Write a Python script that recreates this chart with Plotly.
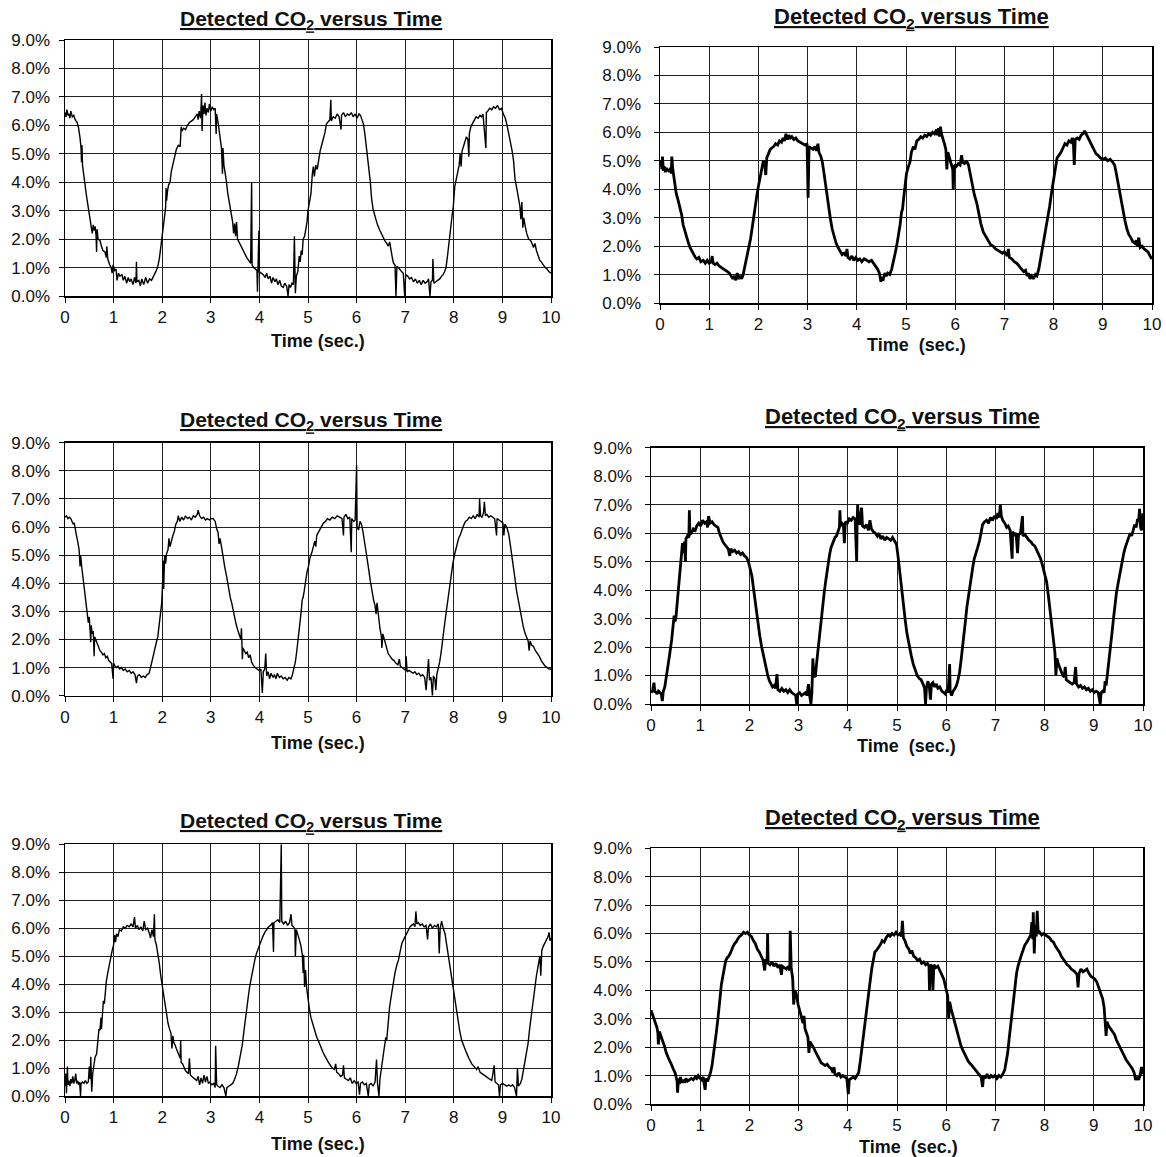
import plotly.graph_objects as go

W, H = 1166, 1157

# ---------------- data (time in s, CO2 in %) ----------------
t1 = [0.00,0.02,0.04,0.06,0.08,0.10,0.12,0.15,0.18,0.21,0.25,0.28,0.31,0.33,0.34,0.35,0.36,0.38,0.41,0.44,0.48,0.51,0.54,0.56,0.58,0.60,0.62,0.64,0.65,0.66,0.68,0.72,0.75,0.78,0.82,0.85,0.86,0.88,0.92,0.95,0.97,0.99,1.02,1.05,1.07,1.10,1.13,1.17,1.20,1.23,1.27,1.30,1.33,1.36,1.40,1.43,1.46,1.47,1.48,1.52,1.55,1.58,1.62,1.66,1.70,1.74,1.78,1.82,1.85,1.88,1.91,1.94,1.97,1.99,2.02,2.05,2.07,2.08,2.09,2.11,2.13,2.16,2.19,2.23,2.26,2.29,2.33,2.37,2.39,2.41,2.44,2.48,2.52,2.56,2.60,2.64,2.68,2.72,2.74,2.76,2.79,2.81,2.82,2.84,2.86,2.88,2.90,2.92,2.95,2.97,3.00,3.03,3.06,3.09,3.11,3.12,3.15,3.19,3.22,3.24,3.25,3.27,3.30,3.32,3.35,3.38,3.42,3.45,3.47,3.49,3.51,3.53,3.55,3.58,3.62,3.66,3.70,3.74,3.78,3.82,3.84,3.85,3.88,3.91,3.95,3.96,3.97,3.99,4.00,4.04,4.08,4.12,4.15,4.18,4.22,4.25,4.28,4.32,4.35,4.38,4.42,4.45,4.49,4.52,4.56,4.59,4.61,4.64,4.67,4.70,4.72,4.74,4.76,4.79,4.82,4.84,4.86,4.88,4.90,4.93,4.96,4.98,5.00,5.03,5.06,5.09,5.11,5.13,5.16,5.19,5.21,5.25,5.28,5.32,5.35,5.38,5.42,5.45,5.47,5.48,5.52,5.56,5.60,5.64,5.68,5.69,5.73,5.77,5.81,5.85,5.89,5.93,5.97,6.01,6.05,6.08,6.11,6.14,6.17,6.20,6.23,6.26,6.28,6.31,6.34,6.38,6.43,6.48,6.53,6.58,6.62,6.65,6.68,6.71,6.74,6.76,6.79,6.81,6.83,6.86,6.90,6.93,6.96,6.99,7.01,7.05,7.09,7.13,7.17,7.21,7.25,7.29,7.33,7.37,7.41,7.45,7.48,7.51,7.53,7.56,7.57,7.59,7.63,7.67,7.71,7.75,7.78,7.81,7.84,7.87,7.89,7.92,7.94,7.95,7.97,7.99,8.02,8.05,8.09,8.11,8.13,8.15,8.17,8.20,8.23,8.26,8.29,8.31,8.32,8.35,8.38,8.42,8.46,8.50,8.54,8.57,8.60,8.66,8.67,8.70,8.74,8.78,8.82,8.86,8.90,8.94,8.98,9.02,9.06,9.09,9.12,9.16,9.20,9.23,9.26,9.30,9.33,9.36,9.38,9.40,9.42,9.44,9.47,9.50,9.54,9.58,9.62,9.64,9.67,9.70,9.74,9.77,9.80,9.84,9.88,9.92,9.96,10.00]
v1 = [6.45,6.30,6.55,6.35,6.40,6.25,6.50,6.30,6.35,6.20,6.10,5.90,5.55,5.20,4.70,5.30,4.60,4.30,3.95,3.55,3.10,2.80,2.45,2.20,2.50,2.30,2.45,2.10,1.55,2.35,2.00,1.95,1.75,1.60,1.55,1.35,1.75,1.30,1.10,1.00,0.80,1.10,0.90,0.95,0.55,0.80,0.70,0.75,0.55,0.70,0.45,0.65,0.50,0.60,0.40,0.65,0.45,1.20,0.50,0.55,0.35,0.60,0.40,0.65,0.45,0.60,0.55,0.70,0.75,0.90,1.05,1.30,1.70,2.00,2.35,2.70,3.10,3.80,3.35,3.70,3.90,4.00,4.40,4.70,4.95,5.15,5.30,5.25,5.95,5.80,5.90,5.85,6.00,6.10,6.15,6.20,6.30,6.40,6.20,6.50,6.25,7.10,5.80,6.70,6.40,6.80,6.35,6.60,6.45,6.75,6.50,6.65,6.55,6.60,5.70,6.40,6.10,5.60,5.20,4.30,5.20,4.60,4.30,4.05,3.60,3.30,2.95,2.60,2.20,2.55,2.10,2.60,2.00,1.90,1.75,1.60,1.45,1.35,1.25,1.15,4.00,1.10,1.00,0.95,0.90,0.15,0.95,2.30,0.85,0.80,0.75,0.65,0.80,0.60,0.70,0.45,0.65,0.50,0.60,0.40,0.55,0.35,0.30,0.45,0.35,0.00,0.40,0.30,0.45,0.40,2.10,0.10,0.70,0.85,1.40,1.20,1.60,1.45,2.00,2.10,2.40,2.60,3.00,3.30,3.60,4.30,4.55,4.20,4.60,4.45,4.70,5.10,5.30,5.55,5.75,6.05,6.15,6.20,6.90,6.15,6.30,6.25,6.40,6.30,5.85,6.35,6.45,6.30,6.40,6.35,6.45,6.30,6.40,6.25,6.40,6.35,6.20,6.05,5.70,5.30,4.90,4.40,4.05,3.40,3.05,2.80,2.50,2.30,2.10,1.95,1.85,1.75,1.90,1.50,1.30,1.15,1.10,0.00,1.05,1.00,0.90,0.85,0.80,0.00,0.75,0.70,0.60,0.65,0.50,0.60,0.45,0.55,0.40,0.55,0.45,0.50,0.60,0.00,0.50,0.55,1.30,0.45,0.50,0.55,0.60,0.70,0.75,0.85,1.00,1.40,1.75,2.20,2.45,2.70,2.90,3.15,3.85,4.10,4.45,4.60,5.00,4.55,5.10,5.25,5.40,5.60,5.50,4.90,5.70,5.95,6.05,6.20,6.30,6.25,6.35,6.30,6.40,5.20,6.45,6.50,6.60,6.55,6.65,6.60,6.70,6.55,6.60,6.40,6.25,6.05,5.80,5.45,5.10,4.75,4.10,3.75,3.40,3.15,2.70,3.30,2.40,2.75,2.45,2.20,2.00,1.95,1.80,1.70,1.85,1.60,1.40,1.25,1.20,1.10,1.00,0.95,0.85,0.80]

t2 = [0.00,0.02,0.04,0.05,0.07,0.09,0.11,0.13,0.15,0.17,0.19,0.21,0.23,0.24,0.26,0.28,0.30,0.33,0.37,0.41,0.44,0.47,0.50,0.54,0.58,0.61,0.65,0.68,0.72,0.75,0.79,0.83,0.88,0.92,0.96,1.00,1.04,1.06,1.08,1.12,1.16,1.20,1.25,1.29,1.33,1.37,1.41,1.45,1.48,1.51,1.54,1.57,1.60,1.63,1.66,1.69,1.72,1.76,1.80,1.84,1.87,1.90,1.93,1.97,2.00,2.04,2.07,2.10,2.13,2.15,2.17,2.20,2.24,2.27,2.31,2.35,2.39,2.43,2.47,2.50,2.53,2.56,2.59,2.62,2.65,2.68,2.72,2.76,2.80,2.85,2.90,2.95,2.99,3.01,3.03,3.07,3.11,3.15,3.18,3.21,3.23,3.27,3.30,3.33,3.36,3.39,3.42,3.46,3.50,3.54,3.58,3.62,3.66,3.70,3.74,3.78,3.80,3.82,3.86,3.90,3.94,3.98,4.02,4.06,4.10,4.15,4.20,4.25,4.30,4.34,4.38,4.42,4.46,4.49,4.51,4.54,4.57,4.60,4.63,4.67,4.71,4.74,4.78,4.81,4.85,4.88,4.91,4.93,4.95,4.98,5.01,5.05,5.08,5.11,5.15,5.18,5.22,5.26,5.30,5.34,5.38,5.42,5.46,5.50,5.54,5.58,5.62,5.64,5.66,5.68,5.70,5.72,5.75,5.78,5.81,5.83,5.85,5.88,5.92,5.95,5.96,5.98,6.02,6.06,6.10,6.13,6.15,6.19,6.23,6.27,6.31,6.35,6.39,6.44,6.48,6.52,6.57,6.62,6.67,6.72,6.77,6.82,6.87,6.92,6.96,7.00,7.03,7.06,7.08,7.10,7.15,7.20,7.25,7.30,7.35,7.39,7.43,7.46,7.49,7.52,7.55,7.59,7.63,7.66,7.70,7.73,7.76,7.80,7.84,7.88,7.92,7.96,8.00,8.04,8.07,8.11,8.15,8.19,8.23,8.27,8.31,8.35,8.38,8.40,8.42,8.44,8.48,8.52,8.56,8.60,8.63,8.66,8.70,8.74,8.78,8.82,8.86,8.90,8.95,9.00,9.05,9.10,9.15,9.20,9.24,9.27,9.30,9.34,9.37,9.41,9.45,9.49,9.53,9.57,9.61,9.65,9.68,9.70,9.73,9.76,9.80,9.84,9.88,9.92,9.96,10.00]
v2 = [4.80,5.00,4.70,5.15,4.65,4.80,4.60,4.75,4.65,4.70,4.60,4.75,4.55,5.15,4.70,4.40,4.10,3.85,3.60,3.30,3.10,2.75,2.55,2.30,2.10,1.95,1.80,1.70,1.60,1.55,1.60,1.45,1.50,1.40,1.50,1.40,1.45,1.65,1.40,1.35,1.40,1.30,1.25,1.20,1.15,1.10,1.05,0.95,0.85,0.95,0.80,1.05,0.85,0.95,0.85,1.00,1.25,1.55,1.80,2.25,2.60,3.00,3.40,3.80,4.10,4.50,4.75,5.00,4.85,4.50,5.10,5.25,5.40,5.45,5.50,5.60,5.55,5.70,5.65,5.80,5.70,5.95,5.75,5.90,5.80,5.85,5.75,5.80,5.70,5.65,5.60,5.55,5.60,3.70,5.50,5.45,5.40,5.50,5.35,5.60,5.30,5.15,4.95,4.60,4.20,3.80,3.40,3.00,2.60,2.30,2.10,1.95,1.80,1.70,1.75,1.65,1.90,1.60,1.55,1.65,1.50,1.60,1.50,1.55,1.45,1.55,1.50,1.45,1.50,1.40,1.30,1.20,1.05,0.75,0.90,0.85,1.05,0.95,1.05,1.00,1.20,1.40,1.75,2.00,2.40,2.75,3.20,3.30,3.65,4.20,4.55,4.80,4.95,5.30,5.50,5.40,5.70,5.75,5.85,5.80,5.90,5.85,5.95,5.90,6.00,5.95,6.10,5.90,6.15,5.85,6.20,5.95,5.80,5.60,5.40,4.70,5.30,5.10,4.85,4.70,4.00,4.85,4.80,4.90,4.85,5.20,4.95,4.90,5.00,4.85,4.50,4.10,3.80,3.50,3.10,2.80,2.50,2.35,2.20,2.05,2.00,1.90,1.85,1.80,1.75,1.80,1.70,1.65,1.90,1.60,1.55,1.45,1.40,1.30,1.20,1.10,1.15,0.95,1.05,0.85,0.95,0.85,1.00,0.95,1.20,1.50,1.80,2.10,2.50,3.00,3.40,3.90,4.40,4.80,5.10,5.20,5.30,5.45,5.60,5.55,5.70,5.65,5.80,5.70,4.85,5.75,5.80,5.75,5.90,5.95,6.05,5.95,5.80,5.65,5.50,5.40,5.25,5.20,5.10,5.05,5.10,5.00,5.05,4.95,4.85,4.60,4.30,3.90,3.60,3.20,2.90,2.60,2.40,2.30,2.15,2.10,2.20,2.00,2.30,1.95,2.00,1.90,1.85,1.80,1.65,1.55]

t3 = [0.00,0.03,0.06,0.09,0.12,0.15,0.17,0.19,0.21,0.23,0.26,0.29,0.31,0.32,0.35,0.38,0.41,0.44,0.46,0.48,0.50,0.52,0.53,0.54,0.56,0.58,0.60,0.61,0.63,0.66,0.69,0.72,0.75,0.78,0.81,0.84,0.87,0.90,0.93,0.96,0.99,1.00,1.03,1.06,1.09,1.12,1.16,1.20,1.24,1.28,1.32,1.36,1.40,1.44,1.47,1.49,1.53,1.57,1.61,1.65,1.69,1.73,1.76,1.79,1.82,1.85,1.88,1.91,1.94,1.97,1.99,2.01,2.02,2.03,2.05,2.07,2.09,2.12,2.14,2.16,2.19,2.22,2.25,2.28,2.31,2.33,2.36,2.40,2.44,2.48,2.52,2.56,2.60,2.64,2.68,2.72,2.74,2.77,2.81,2.85,2.89,2.93,2.97,3.01,3.05,3.09,3.12,3.15,3.17,3.19,3.22,3.25,3.29,3.33,3.36,3.40,3.43,3.46,3.49,3.52,3.56,3.59,3.62,3.63,3.65,3.66,3.69,3.72,3.75,3.78,3.81,3.84,3.87,3.91,3.95,3.99,4.03,4.06,4.08,4.11,4.13,4.15,4.18,4.21,4.24,4.28,4.31,4.34,4.37,4.41,4.45,4.49,4.53,4.57,4.61,4.65,4.68,4.71,4.74,4.77,4.80,4.83,4.86,4.88,4.90,4.92,4.95,4.98,5.01,5.04,5.08,5.11,5.14,5.16,5.18,5.21,5.25,5.28,5.32,5.36,5.40,5.45,5.50,5.55,5.60,5.65,5.70,5.73,5.74,5.78,5.82,5.86,5.89,5.90,5.94,5.97,6.00,6.01,6.04,6.07,6.10,6.13,6.16,6.20,6.24,6.28,6.31,6.35,6.38,6.40,6.42,6.45,6.48,6.51,6.52,6.54,6.57,6.61,6.65,6.69,6.73,6.77,6.81,6.85,6.88,6.90,6.94,6.98,7.01,7.02,7.04,7.08,7.12,7.16,7.20,7.24,7.28,7.32,7.36,7.40,7.43,7.45,7.48,7.50,7.53,7.56,7.58,7.61,7.63,7.65,7.68,7.71,7.74,7.77,7.80,7.83,7.86,7.89,7.92,7.95,7.98,8.02,8.06,8.10,8.14,8.17,8.20,8.24,8.28,8.32,8.36,8.40,8.44,8.48,8.52,8.53,8.55,8.58,8.61,8.63,8.65,8.68,8.72,8.76,8.80,8.84,8.88,8.89,8.93,8.97,9.01,9.03,9.05,9.09,9.13,9.16,9.20,9.23,9.26,9.29,9.33,9.36,9.40,9.43,9.47,9.51,9.53,9.55,9.57,9.60,9.64,9.68,9.72,9.76,9.80,9.84,9.88,9.92,9.96,10.00]
v3 = [6.35,6.40,6.30,6.35,6.30,6.20,6.10,6.15,5.90,5.75,5.50,5.20,4.60,5.00,4.50,4.10,3.60,3.15,2.90,2.60,2.80,2.40,1.90,2.50,2.20,2.30,1.40,2.10,2.00,1.85,1.75,1.60,1.55,1.45,1.50,1.35,1.40,1.25,1.20,1.15,0.60,1.15,1.05,1.00,1.05,0.95,1.00,0.90,0.95,0.85,0.90,0.80,0.85,0.75,0.45,0.70,0.75,0.65,0.70,0.65,0.75,0.80,1.00,1.25,1.45,1.65,1.90,2.10,2.50,2.90,3.30,4.10,4.80,3.80,5.00,4.70,5.05,5.20,5.60,5.30,5.55,5.70,5.85,6.10,6.20,6.40,6.20,6.35,6.25,6.40,6.30,6.35,6.25,6.40,6.35,6.45,6.60,6.40,6.30,6.35,6.25,6.30,6.25,6.30,6.30,6.20,5.95,5.80,5.40,5.60,5.30,4.90,4.55,4.20,3.85,3.50,3.30,3.00,2.80,2.55,2.30,2.10,2.00,2.40,1.30,1.70,1.60,1.50,1.55,1.35,1.45,1.20,1.10,1.00,0.95,0.90,0.95,0.10,0.85,0.95,1.50,0.70,0.85,0.60,0.80,0.65,0.75,0.60,0.80,0.65,0.70,0.60,0.65,0.55,0.65,0.60,0.75,0.95,1.20,1.60,2.00,2.50,3.00,3.40,3.50,3.70,4.10,4.40,4.60,4.90,5.10,5.35,5.50,5.30,5.70,5.80,5.95,6.05,6.15,6.20,6.30,6.25,6.35,6.30,6.40,6.35,6.30,5.70,6.35,6.45,6.30,6.35,5.10,6.30,6.20,6.25,8.20,6.00,5.90,6.20,6.10,5.85,5.55,5.10,4.60,4.10,3.75,3.40,3.20,2.90,3.30,2.70,2.40,2.10,1.70,2.20,2.00,1.70,1.50,1.40,1.30,1.25,1.15,1.10,1.30,1.05,1.00,0.95,0.90,1.40,0.85,0.90,0.85,0.80,0.85,0.75,0.80,0.70,0.75,0.65,0.20,0.60,1.30,0.55,0.65,0.00,0.70,0.60,0.20,0.75,0.95,1.20,1.55,1.90,2.40,2.80,3.20,3.60,3.95,4.35,4.70,5.05,5.35,5.60,5.75,5.95,6.05,6.20,6.25,6.35,6.30,6.40,6.30,6.45,6.35,7.00,6.40,6.35,6.50,6.90,6.40,6.45,6.35,6.40,6.35,6.30,5.70,6.30,6.25,6.20,6.15,5.70,6.10,6.00,5.75,5.40,4.95,4.55,4.15,3.75,3.35,3.05,2.75,2.45,2.20,2.00,1.95,1.60,1.95,1.80,1.75,1.60,1.50,1.40,1.25,1.15,1.05,1.00,0.95,0.95]

t4 = [0.00,0.03,0.06,0.08,0.10,0.12,0.15,0.18,0.21,0.23,0.25,0.28,0.31,0.35,0.38,0.42,0.45,0.47,0.49,0.51,0.54,0.56,0.58,0.60,0.62,0.63,0.64,0.66,0.68,0.70,0.71,0.74,0.77,0.78,0.79,0.82,0.86,0.90,0.93,0.97,1.01,1.05,1.09,1.13,1.15,1.17,1.20,1.24,1.28,1.32,1.36,1.39,1.42,1.46,1.50,1.54,1.57,1.60,1.62,1.66,1.70,1.74,1.78,1.82,1.86,1.90,1.94,1.98,2.02,2.05,2.08,2.11,2.14,2.17,2.21,2.25,2.29,2.32,2.35,2.38,2.41,2.44,2.47,2.50,2.53,2.56,2.58,2.62,2.66,2.70,2.74,2.78,2.82,2.86,2.90,2.94,2.96,2.98,3.02,3.06,3.10,3.14,3.17,3.20,3.22,3.25,3.27,3.29,3.31,3.34,3.37,3.40,3.43,3.46,3.49,3.52,3.55,3.58,3.60,3.63,3.66,3.70,3.74,3.77,3.80,3.83,3.84,3.85,3.88,3.91,3.93,3.95,3.99,4.03,4.07,4.11,4.15,4.18,4.19,4.20,4.22,4.25,4.28,4.30,4.34,4.38,4.42,4.45,4.48,4.52,4.56,4.60,4.63,4.67,4.71,4.75,4.79,4.83,4.87,4.91,4.95,4.99,5.02,5.05,5.08,5.11,5.14,5.17,5.20,5.23,5.26,5.29,5.33,5.37,5.41,5.45,5.49,5.53,5.56,5.58,5.60,5.63,5.66,5.68,5.70,5.73,5.76,5.80,5.83,5.87,5.91,5.95,5.98,6.01,6.04,6.07,6.08,6.11,6.14,6.18,6.21,6.24,6.27,6.30,6.33,6.36,6.39,6.42,6.45,6.48,6.51,6.54,6.57,6.61,6.64,6.68,6.71,6.74,6.78,6.82,6.86,6.90,6.94,6.98,7.02,7.05,7.08,7.10,7.12,7.15,7.19,7.23,7.26,7.30,7.34,7.35,7.39,7.42,7.45,7.47,7.51,7.55,7.56,7.60,7.64,7.68,7.72,7.76,7.80,7.84,7.88,7.92,7.96,8.00,8.04,8.07,8.10,8.13,8.16,8.19,8.21,8.23,8.25,8.28,8.31,8.34,8.37,8.40,8.42,8.44,8.48,8.52,8.56,8.60,8.63,8.65,8.69,8.73,8.77,8.81,8.85,8.89,8.93,8.97,9.01,9.05,9.09,9.13,9.15,9.18,9.21,9.23,9.25,9.28,9.31,9.34,9.37,9.40,9.43,9.46,9.49,9.52,9.55,9.58,9.61,9.64,9.67,9.71,9.74,9.77,9.80,9.83,9.86,9.89,9.91,9.93,9.95,9.97,10.00]
v4 = [0.40,0.45,0.75,0.40,0.45,0.35,0.45,0.40,0.35,0.10,0.45,0.60,0.90,1.30,1.75,2.25,2.95,3.10,2.90,3.10,3.70,4.10,4.40,4.60,5.00,5.50,5.65,5.30,5.70,5.00,5.80,5.90,5.85,6.80,5.95,6.00,6.15,6.10,6.25,6.35,6.25,6.45,6.35,6.40,6.20,6.60,6.35,6.40,6.30,6.25,6.20,6.00,5.85,5.70,5.60,5.50,5.45,5.20,5.45,5.35,5.40,5.30,5.35,5.25,5.30,5.20,5.15,5.00,4.75,4.50,4.10,3.70,3.20,2.80,2.40,2.00,1.65,1.40,1.15,0.95,0.80,0.70,0.60,0.65,0.55,1.05,0.50,0.45,0.55,0.45,0.50,0.40,0.50,0.40,0.35,0.30,0.00,0.35,0.40,0.30,0.35,0.40,0.30,0.70,0.35,0.00,0.40,1.60,1.00,0.95,1.50,2.00,2.40,3.00,3.60,3.90,4.30,4.70,5.05,5.25,5.50,5.70,5.85,5.90,6.10,6.20,6.80,6.25,6.35,6.30,5.65,6.40,6.35,6.50,6.45,6.55,6.50,5.00,6.40,7.00,6.50,6.30,6.90,6.25,6.20,6.30,6.10,6.45,6.15,6.05,6.00,5.90,6.00,5.80,5.90,5.75,5.85,5.80,5.75,5.85,5.70,5.60,5.20,4.70,4.20,3.70,3.30,2.90,2.50,2.20,1.90,1.70,1.40,1.20,1.00,0.90,0.85,0.70,0.55,0.00,0.60,0.80,0.55,0.15,0.70,0.75,0.60,0.70,0.55,0.60,0.45,0.40,0.35,0.50,0.40,1.40,0.45,0.30,0.45,0.55,0.65,0.85,1.10,1.50,1.90,2.40,2.90,3.40,3.80,4.10,4.50,4.80,5.10,5.30,5.50,5.75,6.05,6.30,6.40,6.45,6.35,6.55,6.45,6.60,6.50,6.70,6.55,7.00,6.60,6.45,6.35,6.20,6.25,6.10,5.10,6.05,5.95,6.00,5.30,5.95,6.00,6.60,5.90,5.95,5.85,5.75,5.70,5.60,5.55,5.40,5.30,5.10,4.85,4.55,4.30,3.90,3.40,2.95,2.50,2.05,1.80,1.00,1.60,1.40,1.25,1.10,1.00,0.95,1.30,0.85,0.80,0.75,0.70,0.75,1.30,0.70,0.60,0.65,0.55,0.60,0.50,0.55,0.45,0.50,0.40,0.45,0.40,0.00,0.40,0.45,0.40,0.80,0.65,1.10,1.50,2.00,2.50,3.00,3.50,3.90,4.20,4.50,4.80,5.10,5.30,5.50,5.65,5.80,6.00,5.90,6.10,6.30,6.20,6.50,6.40,6.85,6.20,6.10,6.70]

t5 = [0.00,0.02,0.03,0.05,0.06,0.08,0.10,0.12,0.14,0.16,0.18,0.20,0.22,0.24,0.26,0.28,0.30,0.32,0.33,0.36,0.39,0.42,0.45,0.48,0.50,0.52,0.53,0.55,0.57,0.59,0.62,0.65,0.68,0.70,0.72,0.74,0.75,0.77,0.79,0.81,0.83,0.85,0.88,0.91,0.94,0.97,1.00,1.02,1.04,1.06,1.09,1.12,1.16,1.20,1.24,1.28,1.32,1.36,1.40,1.43,1.45,1.49,1.52,1.56,1.60,1.63,1.66,1.70,1.73,1.76,1.79,1.82,1.84,1.85,1.88,1.91,1.94,1.97,2.00,2.03,2.06,2.09,2.12,2.15,2.18,2.20,2.22,2.24,2.26,2.29,2.32,2.35,2.37,2.38,2.39,2.42,2.45,2.48,2.51,2.54,2.56,2.58,2.61,2.64,2.68,2.71,2.74,2.77,2.80,2.83,2.86,2.89,2.92,2.95,2.98,3.02,3.06,3.09,3.10,3.12,3.15,3.19,3.23,3.27,3.31,3.33,3.37,3.41,3.45,3.49,3.53,3.57,3.61,3.65,3.68,3.71,3.74,3.76,3.79,3.82,3.85,3.88,3.91,3.94,3.97,4.00,4.04,4.07,4.11,4.15,4.19,4.23,4.27,4.29,4.30,4.34,4.38,4.42,4.45,4.46,4.50,4.54,4.58,4.62,4.65,4.67,4.70,4.73,4.74,4.76,4.79,4.82,4.85,4.88,4.90,4.91,4.93,4.95,4.97,5.00,5.03,5.06,5.10,5.14,5.18,5.22,5.26,5.30,5.34,5.38,5.42,5.46,5.50,5.54,5.57,5.59,5.63,5.67,5.71,5.73,5.75,5.79,5.83,5.87,5.91,5.95,5.99,6.03,6.06,6.08,6.12,6.16,6.20,6.24,6.26,6.30,6.34,6.38,6.41,6.43,6.46,6.48,6.52,6.55,6.58,6.60,6.62,6.65,6.68,6.72,6.76,6.79,6.83,6.86,6.90,6.93,6.97,7.00,7.03,7.06,7.10,7.13,7.17,7.20,7.22,7.24,7.27,7.31,7.35,7.39,7.43,7.46,7.48,7.52,7.56,7.60,7.64,7.68,7.70,7.72,7.75,7.78,7.82,7.85,7.89,7.92,7.96,7.99,8.02,8.05,8.09,8.12,8.16,8.21,8.26,8.31,8.37,8.42,8.47,8.50,8.54,8.58,8.62,8.66,8.70,8.74,8.78,8.80,8.83,8.85,8.88,8.92,8.94,8.96,9.00,9.04,9.09,9.13,9.17,9.21,9.25,9.29,9.31,9.33,9.37,9.40,9.43,9.47,9.50,9.53,9.56,9.60,9.63,9.67,9.70,9.74,9.77,9.79,9.81,9.84,9.88,9.91,9.94,9.96,9.98,10.00]
v5 = [0.35,0.80,0.10,1.05,0.40,0.55,0.35,0.60,0.45,0.70,0.45,0.55,0.80,0.45,0.55,0.40,0.50,0.00,0.45,0.50,0.45,0.55,0.45,0.50,1.05,0.60,1.40,0.15,0.80,1.00,1.40,1.50,2.10,2.40,2.35,2.80,2.40,3.20,3.40,3.30,3.90,4.10,4.40,4.70,4.95,5.20,5.40,5.75,5.50,5.80,5.70,5.95,5.90,6.05,6.00,6.10,6.05,6.15,6.05,6.40,6.00,6.10,5.95,6.05,5.90,6.25,5.95,6.00,5.85,5.65,5.95,5.70,6.50,5.60,5.40,5.10,4.75,4.30,3.95,3.50,3.20,2.90,2.60,2.40,2.25,1.70,2.15,1.90,1.85,1.70,1.55,1.40,1.35,2.00,1.20,1.15,1.00,0.90,0.85,0.80,1.35,0.75,0.70,0.65,0.60,0.55,0.70,0.40,0.65,0.45,0.75,0.50,0.70,0.45,0.50,0.40,0.45,0.30,1.80,0.40,0.35,0.30,0.40,0.30,0.00,0.30,0.35,0.40,0.45,0.60,0.80,1.10,1.45,1.85,2.30,2.70,3.10,3.55,3.80,4.10,4.40,4.70,4.90,5.10,5.25,5.40,5.55,5.70,5.85,5.95,6.05,6.10,6.20,5.15,6.20,6.25,6.30,6.20,9.00,6.25,6.15,6.25,6.10,6.20,6.50,6.10,6.05,5.95,5.00,5.95,5.80,5.60,5.40,5.10,4.40,5.05,3.90,4.50,3.90,3.45,3.10,2.80,2.55,2.35,2.10,1.95,1.75,1.60,1.45,1.30,1.20,1.10,1.00,0.95,1.15,0.85,0.80,0.70,0.75,1.10,0.65,0.60,0.55,0.65,0.45,0.55,0.45,0.50,0.05,0.45,0.50,0.40,0.45,0.00,0.40,0.45,0.35,0.50,1.30,0.45,0.00,0.60,1.05,1.40,1.75,2.10,2.00,2.70,3.20,3.65,4.10,4.40,4.70,4.85,5.20,5.45,5.60,5.70,5.85,5.95,6.05,6.10,6.15,6.05,6.60,6.15,6.20,6.10,6.15,6.05,6.10,5.60,6.05,6.15,6.00,6.10,6.05,6.15,5.10,6.00,6.25,6.00,5.80,5.45,5.00,4.60,4.15,3.75,3.40,3.05,2.70,2.35,2.00,1.75,1.55,1.35,1.15,1.05,0.95,1.05,0.85,0.80,0.75,0.70,0.65,0.60,0.55,0.75,1.10,0.50,0.45,0.40,0.00,0.40,0.45,0.40,0.35,0.40,0.35,0.40,0.30,0.00,1.00,0.35,0.45,0.60,0.90,1.20,1.55,1.90,2.40,2.95,3.45,3.90,4.30,4.70,5.00,4.30,5.20,5.35,5.50,5.60,5.70,5.85,5.55,5.65]

t6 = [0.00,0.03,0.06,0.09,0.12,0.14,0.15,0.17,0.19,0.22,0.25,0.28,0.31,0.34,0.37,0.40,0.43,0.46,0.49,0.51,0.53,0.54,0.56,0.58,0.60,0.62,0.65,0.68,0.71,0.74,0.78,0.82,0.86,0.90,0.93,0.96,1.00,1.03,1.06,1.08,1.10,1.12,1.15,1.18,1.21,1.24,1.27,1.30,1.33,1.36,1.39,1.41,1.43,1.46,1.49,1.52,1.55,1.58,1.61,1.64,1.67,1.70,1.73,1.76,1.80,1.84,1.88,1.92,1.96,2.00,2.04,2.08,2.12,2.16,2.20,2.24,2.28,2.31,2.33,2.36,2.37,2.38,2.42,2.46,2.50,2.54,2.58,2.62,2.65,2.67,2.71,2.75,2.79,2.82,2.83,2.85,2.88,2.90,2.92,2.95,2.99,3.03,3.06,3.09,3.11,3.13,3.16,3.19,3.21,3.23,3.26,3.30,3.34,3.38,3.42,3.46,3.50,3.54,3.58,3.62,3.66,3.70,3.72,3.74,3.78,3.82,3.86,3.90,3.94,3.98,4.01,4.03,4.07,4.11,4.15,4.19,4.22,4.25,4.28,4.31,4.34,4.37,4.40,4.43,4.46,4.49,4.52,4.55,4.58,4.62,4.66,4.70,4.74,4.78,4.82,4.86,4.90,4.94,4.98,5.02,5.06,5.09,5.11,5.13,5.16,5.20,5.24,5.27,5.30,5.34,5.38,5.42,5.46,5.50,5.54,5.58,5.62,5.65,5.66,5.68,5.71,5.73,5.75,5.79,5.83,5.87,5.91,5.95,5.99,6.03,6.05,6.07,6.10,6.14,6.18,6.22,6.26,6.30,6.35,6.40,6.45,6.50,6.55,6.60,6.64,6.68,6.71,6.74,6.76,6.79,6.83,6.87,6.91,6.95,6.99,7.03,7.07,7.11,7.15,7.19,7.22,7.25,7.28,7.31,7.34,7.37,7.40,7.43,7.46,7.49,7.52,7.56,7.60,7.64,7.68,7.72,7.74,7.76,7.77,7.79,7.81,7.83,7.85,7.87,7.90,7.94,7.98,8.02,8.06,8.10,8.14,8.18,8.22,8.26,8.30,8.34,8.38,8.42,8.46,8.50,8.54,8.58,8.62,8.66,8.68,8.70,8.74,8.78,8.82,8.86,8.90,8.94,8.98,9.02,9.06,9.10,9.14,9.18,9.21,9.23,9.25,9.27,9.30,9.34,9.38,9.42,9.46,9.50,9.54,9.58,9.62,9.66,9.70,9.74,9.78,9.82,9.85,9.88,9.91,9.94,9.97,10.00]
v6 = [3.30,3.15,3.00,2.85,2.70,2.50,2.10,2.55,2.45,2.30,2.20,2.00,1.80,1.65,1.55,1.45,1.30,1.20,1.10,0.95,0.80,0.40,0.90,0.70,0.95,0.75,0.85,0.75,0.90,0.80,0.85,0.90,0.85,0.95,0.90,1.00,0.90,0.85,0.95,0.60,0.50,0.90,0.80,0.95,1.10,1.35,1.70,2.10,2.55,3.00,3.50,4.05,4.20,4.50,4.85,5.05,5.15,5.20,5.30,5.45,5.55,5.65,5.70,5.80,5.90,5.95,6.05,6.00,6.05,5.95,5.90,5.75,5.65,5.45,5.35,5.20,5.05,4.70,5.10,5.00,6.00,4.95,4.90,5.00,4.85,4.95,4.80,4.90,4.55,4.85,4.80,4.75,4.85,4.70,6.10,4.80,4.40,3.50,4.00,3.90,3.50,3.25,3.00,2.85,3.10,2.65,2.50,2.35,1.80,2.20,2.10,2.00,1.85,1.70,1.55,1.45,1.40,1.35,1.40,1.30,1.25,1.10,1.30,1.05,1.00,1.10,0.95,1.00,0.95,0.90,0.35,0.85,0.90,0.95,0.90,1.00,1.10,1.45,1.90,2.30,2.75,3.20,3.70,4.10,4.40,4.80,5.10,5.35,5.40,5.50,5.60,5.75,5.70,5.85,5.95,5.90,6.00,5.95,6.05,5.95,6.00,5.90,6.45,5.85,5.75,5.55,5.45,5.30,5.40,5.20,5.15,5.05,5.10,4.95,5.00,4.90,4.95,4.85,4.00,4.90,4.85,4.00,4.90,4.80,4.85,4.70,4.55,4.40,4.10,3.80,3.00,3.60,3.35,3.10,2.85,2.55,2.30,2.05,1.85,1.65,1.50,1.40,1.30,1.20,1.10,1.05,0.95,0.60,1.00,0.90,1.05,0.90,1.00,0.95,1.00,0.90,1.00,0.95,1.05,1.20,1.45,1.80,2.30,2.80,3.35,3.85,4.30,4.60,4.85,5.05,5.20,5.40,5.60,5.70,5.85,5.95,6.40,5.80,6.75,5.30,6.30,5.90,6.80,6.00,6.05,5.95,6.00,5.95,5.90,5.85,5.75,5.70,5.55,5.45,5.35,5.20,5.10,5.00,4.90,4.85,4.75,4.70,4.65,4.55,4.10,4.60,4.75,4.65,4.70,4.75,4.60,4.50,4.45,4.40,4.30,4.10,3.90,3.70,3.40,3.00,2.40,2.90,2.75,2.65,2.55,2.45,2.25,2.10,1.95,1.80,1.65,1.55,1.45,1.35,1.25,1.10,0.85,0.95,0.85,1.00,1.30,1.05]

x_ticks = [0, 1, 2, 3, 4, 5, 6, 7, 8, 9, 10]
y_ticks = [0, 1, 2, 3, 4, 5, 6, 7, 8, 9]
title_text = "<u><b>Detected CO<sub>2</sub> versus Time</b></u>"
xlabel_left = "<b>Time (sec.)</b>"
xlabel_right = "<b>Time  (sec.)</b>"

series = [(t1, v1), (t2, v2), (t3, v3), (t4, v4), (t5, v5), (t6, v6)]

# ---------------- layout geometry (pixels) ----------------
# x0, x1, y_top(9%), y_bottom(0%), line width, title center, title size, xlabel center, label, tick standoff
panels = [
    (65, 551, 40, 296, 1.4, (311, 20), 21, (318, 341), xlabel_left, 5),
    (660, 1152, 47, 303, 2.8, (911, 18), 22, (916, 345), xlabel_right, 9),
    (65, 551, 442.7, 695.7, 1.4, (311, 421), 21, (318, 743), xlabel_left, 5),
    (651, 1143, 447.7, 704, 2.8, (902, 418), 22, (906, 746), xlabel_right, 9),
    (65, 551, 844.3, 1096, 1.4, (311, 822), 21, (318, 1144), xlabel_left, 5),
    (651, 1143, 848.3, 1104, 2.8, (902, 819), 22, (908, 1147), xlabel_right, 9),
]

FONT = "Arial, Liberation Sans, sans-serif"
fig = go.Figure()
layout = dict(
    template="none",
    width=W, height=H, autosize=False,
    margin=dict(l=0, r=0, t=0, b=0, pad=0),
    paper_bgcolor="white", plot_bgcolor="white",
    showlegend=False,
    font=dict(family=FONT, color="#111111"),
)
annotations = []
for i, ((t, v), (x0, x1, yt, yb, lw, tpos, tsize, lpos, lab, stand)) in enumerate(zip(series, panels)):
    n = "" if i == 0 else str(i + 1)
    fig.add_trace(go.Scatter(x=t, y=v, mode="lines",
                             line=dict(color="black", width=lw),
                             xaxis="x" + n, yaxis="y" + n,
                             hoverinfo="skip"))
    layout["xaxis" + n] = dict(
        domain=[x0 / W, x1 / W], range=[0, 10], anchor="y" + n,
        automargin=False,
        tickvals=x_ticks, ticktext=[str(k) for k in x_ticks],
        showgrid=True, gridcolor="#222222", gridwidth=1,
        showline=True, linecolor="black", linewidth=1.5, mirror=True,
        ticks="outside", ticklen=5, tickcolor="black",
        tickfont=dict(size=17, family=FONT, color="#111111"),
        zeroline=False, fixedrange=True,
    )
    layout["yaxis" + n] = dict(
        domain=[1 - yb / H, 1 - yt / H], range=[0, 9], anchor="x" + n,
        automargin=False,
        tickvals=y_ticks, ticktext=["%.1f%%" % k for k in y_ticks],
        showgrid=True, gridcolor="#222222", gridwidth=1,
        showline=True, linecolor="black", linewidth=1.5, mirror=True,
        ticks="outside", ticklen=5, tickcolor="black",
        tickfont=dict(size=17, family=FONT, color="#111111"),
        ticklabelstandoff=stand,
        zeroline=False, fixedrange=True,
    )
    annotations.append(dict(text=title_text, x=tpos[0] / W, y=1 - tpos[1] / H,
                            xref="paper", yref="paper", xanchor="center", yanchor="middle",
                            showarrow=False, font=dict(size=tsize, family=FONT, color="#111111")))
    annotations.append(dict(text=lab, x=lpos[0] / W, y=1 - lpos[1] / H,
                            xref="paper", yref="paper", xanchor="center", yanchor="middle",
                            showarrow=False, font=dict(size=18, family=FONT, color="#111111")))
layout["annotations"] = annotations
fig.update_layout(**layout)

for i, (t, v) in enumerate(series):
    assert len(t) == len(v), (i, len(t), len(v))

# remove the browser's default 8px body margin so the figure sits at the page origin
fig.write_html("out.html",
               config={"displayModeBar": False, "staticPlot": True},
               post_script="document.body.style.margin='0px';document.body.style.padding='0px';")
